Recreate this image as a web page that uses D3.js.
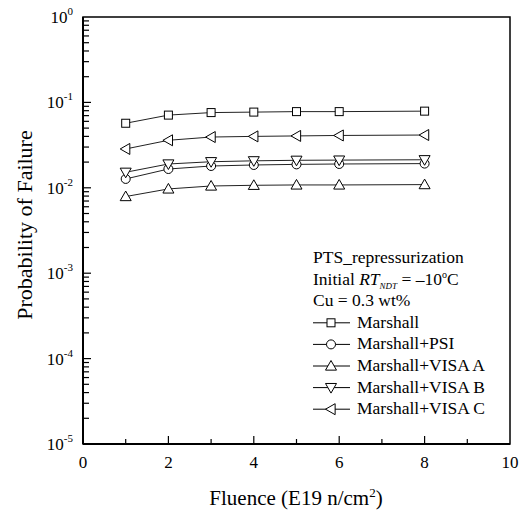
<!DOCTYPE html>
<html>
<head>
<meta charset="utf-8">
<script src="https://cdn.jsdelivr.net/npm/d3@7"></script>
<style>
  body { margin: 0; background: white; }
  svg text { font-family: "Liberation Serif", "Tinos", "DejaVu Serif", serif; }
</style>
</head>
<body>
<div id="chart"></div>
<script>
// data
const fluence = [1, 2, 3, 4, 5, 6, 8];
const marshall = [0.057, 0.071, 0.076, 0.077, 0.078, 0.078, 0.079];
const marshallPSI = [0.0127, 0.0166, 0.018, 0.0185, 0.0188, 0.019, 0.0192];
const marshallVisaA = [0.0079, 0.0097, 0.0105, 0.0107, 0.0108, 0.0108, 0.0109];
const marshallVisaB = [0.0152, 0.019, 0.0202, 0.0207, 0.021, 0.0211, 0.0213];
const marshallVisaC = [0.0285, 0.036, 0.0393, 0.0400, 0.0405, 0.0410, 0.0415];
const seriesNames = ["Marshall", "Marshall+PSI", "Marshall+VISA A", "Marshall+VISA B", "Marshall+VISA C"];
const xTicks = [0, 2, 4, 6, 8, 10];
const yExponents = [0, -1, -2, -3, -4, -5];

const series = [
    { name: seriesNames[0], values: marshall, symbol: "square" },
    { name: seriesNames[1], values: marshallPSI, symbol: "circle" },
    { name: seriesNames[2], values: marshallVisaA, symbol: "up" },
    { name: seriesNames[3], values: marshallVisaB, symbol: "down" },
    { name: seriesNames[4], values: marshallVisaC, symbol: "left" }
];

let width = 525, height = 513;
let margin = { top: 17, right: 15, bottom: 69, left: 83 };
let w = width - margin.left - margin.right;
let h = height - margin.top - margin.bottom;

let svg = d3.select("#chart").append("svg")
    .attr("width", width)
    .attr("height", height)
    .append("g")
    .attr("transform", `translate(${margin.left}, ${margin.top})`);

let x = d3.scaleLinear().domain([0, 10]).range([0, w]);
let y = d3.scaleLog().domain([1e-5, 1]).range([h, 0]);

// frame
svg.append("rect")
    .attr("width", w).attr("height", h)
    .attr("fill", "none").attr("stroke", "black").attr("stroke-width", 1.5);

// x ticks (inward)
let xAx = svg.append("g");
d3.range(1, 10).forEach(v => {
    let major = v % 2 === 0;
    xAx.append("line")
        .attr("x1", x(v)).attr("x2", x(v))
        .attr("y1", h).attr("y2", h - (major ? 8 : 5))
        .attr("stroke", "black").attr("stroke-width", 1.2);
});
xAx.selectAll(".xl").data(xTicks).enter().append("text")
    .attr("x", d => x(d)).attr("y", h + 24)
    .attr("text-anchor", "middle").style("font-size", "17px")
    .text(d => d);

// y ticks (inward), major + minor
let yAx = svg.append("g");
for (let e = -5; e < 0; e++) {
    for (let m = 1; m < 10; m++) {
        let v = m * Math.pow(10, e);
        if (m === 1 && e === -5) continue;
        yAx.append("line")
            .attr("x1", 0).attr("x2", m === 1 ? 8 : 6)
            .attr("y1", y(v)).attr("y2", y(v))
            .attr("stroke", "black").attr("stroke-width", 1.2);
    }
}
let yl = yAx.selectAll(".yl").data(yExponents).enter().append("text")
    .attr("x", -10).attr("y", d => y(Math.pow(10, d)) + 6)
    .attr("text-anchor", "end").style("font-size", "17px");
yl.append("tspan").text("10");
yl.append("tspan").attr("dy", -8).style("font-size", "11px").text(d => d);

// thicker left/bottom axis lines
svg.append("line").attr("x1", 0).attr("x2", 0).attr("y1", 0).attr("y2", h)
    .attr("stroke", "black").attr("stroke-width", 2);
svg.append("line").attr("x1", 0).attr("x2", w).attr("y1", h).attr("y2", h)
    .attr("stroke", "black").attr("stroke-width", 2);

// axis titles
let xt = svg.append("text")
    .attr("x", 296 - margin.left).attr("y", h + 61)
    .attr("text-anchor", "middle").style("font-size", "21px");
xt.append("tspan").text("Fluence (E19 n/cm");
xt.append("tspan").attr("dy", -8).style("font-size", "13px").text("2");
xt.append("tspan").attr("dy", 8).text(")");

svg.append("text")
    .attr("transform", `translate(${32 - margin.left}, ${225 - margin.top}) rotate(-90)`)
    .attr("text-anchor", "middle").style("font-size", "22px")
    .text("Probability of Failure");

// marker shapes
function marker(g, type, cx, cy) {
    let pts;
    if (type === "square") {
        let s = 4;
        g.append("rect").attr("x", cx - s).attr("y", cy - s)
            .attr("width", 2 * s).attr("height", 2 * s)
            .attr("fill", "white").attr("stroke", "black");
        return;
    }
    if (type === "circle") {
        g.append("circle").attr("cx", cx).attr("cy", cy).attr("r", 4.5)
            .attr("fill", "white").attr("stroke", "black");
        return;
    }
    let t = 5.5;
    if (type === "up") pts = [[cx, cy - t], [cx - t, cy + t * 0.75], [cx + t, cy + t * 0.75]];
    if (type === "down") pts = [[cx, cy + t], [cx - t, cy - t * 0.75], [cx + t, cy - t * 0.75]];
    if (type === "left") pts = [[cx - t, cy], [cx + t * 0.75, cy - t], [cx + t * 0.75, cy + t]];
    g.append("polygon").attr("points", pts.map(p => p.join(",")).join(" "))
        .attr("fill", "white").attr("stroke", "black");
}

let line = d3.line()
    .x((d, i) => x(fluence[i]))
    .y(d => y(d));

series.forEach(s => {
    let g = svg.append("g");
    g.append("path").attr("d", line(s.values))
        .attr("fill", "none").attr("stroke", "#222").attr("stroke-width", 1);
    s.values.forEach((v, i) => marker(g, s.symbol, x(fluence[i]), y(v)));
});

// legend
let lg = svg.append("g").attr("transform", `translate(${313 - margin.left}, 0)`);
let rowY = d => 263 - margin.top + d * 21.6;
lg.append("text").attr("x", 0).attr("y", rowY(0)).style("font-size", "17.5px")
    .text("PTS_repressurization");
let rt = lg.append("text").attr("x", 0).attr("y", rowY(1)).style("font-size", "17.5px");
rt.append("tspan").text("Initial ");
rt.append("tspan").style("font-style", "italic").text("RT");
rt.append("tspan").attr("dy", 4).style("font-size", "9px").style("font-style", "italic").text("NDT");
rt.append("tspan").attr("dy", -4).text(" = \u201310");
rt.append("tspan").attr("dy", -7).style("font-size", "10px").text("o");
rt.append("tspan").attr("dy", 7).text("C");
lg.append("text").attr("x", 0).attr("y", rowY(2)).style("font-size", "17.5px")
    .text("Cu = 0.3 wt%");

series.forEach((s, i) => {
    let cy = rowY(3 + i) - 5;
    let g = lg.append("g");
    g.append("line").attr("x1", 0).attr("x2", 37).attr("y1", cy).attr("y2", cy)
        .attr("stroke", "black").attr("stroke-width", 1);
    marker(g, s.symbol, 18, cy);
    g.append("text").attr("x", 44).attr("y", rowY(3 + i)).style("font-size", "17.5px")
        .text(s.name);
});
</script>
</body>
</html>
